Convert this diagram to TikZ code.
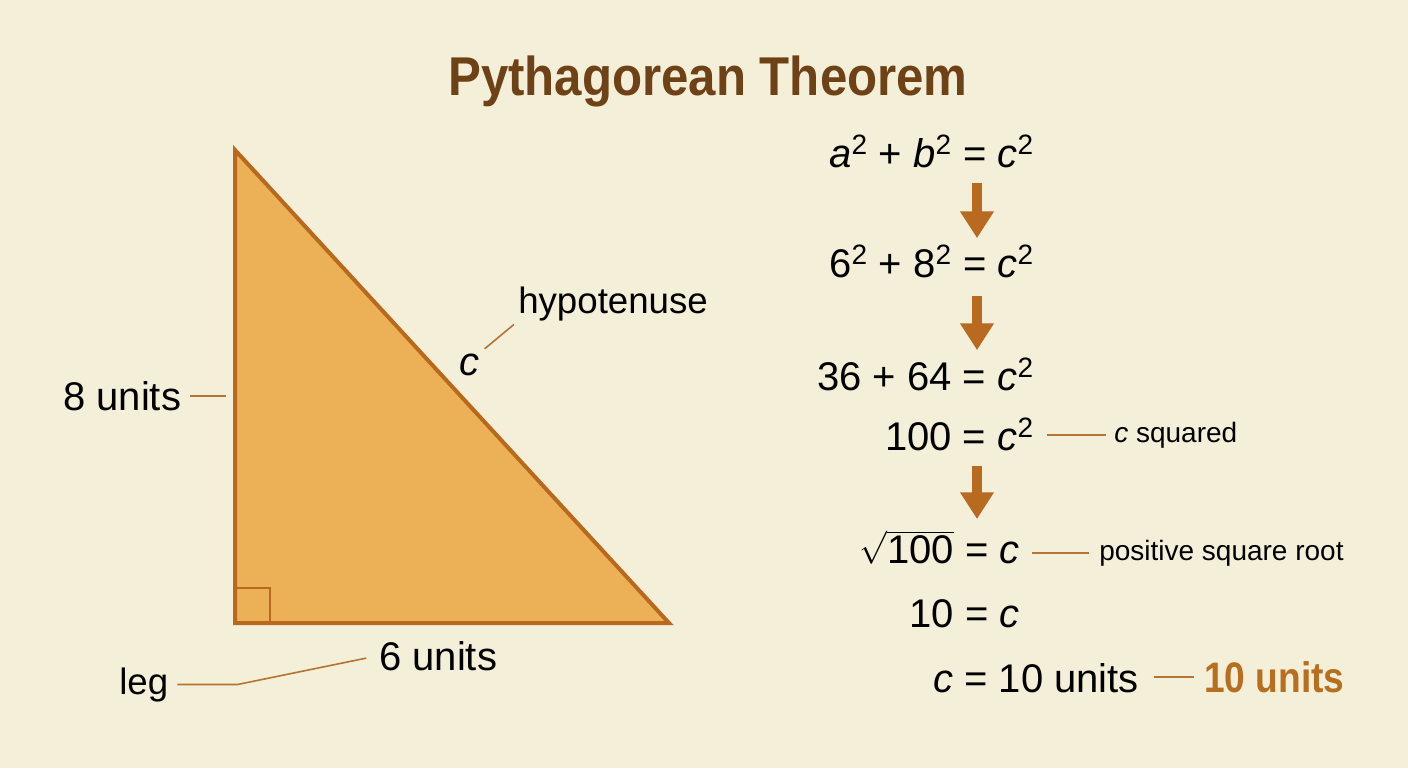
\documentclass[tikz,border=0pt]{standalone}
\usepackage{fontspec}
\setmainfont{Liberation Sans}
\usetikzlibrary{arrows.meta}

\begin{document}
\begin{tikzpicture}[x=0.75pt,y=0.75pt,yscale=-1,xscale=1,
  bigtext/.style={font=\fontsize{30}{36}\selectfont},
  midtext/.style={font=\fontsize{27.5}{33}\selectfont},
  notetext/.style={font=\fontsize{21}{25}\selectfont},
  leader/.style={draw={rgb, 255:red, 180; green, 115; blue, 50 }, line width=1.2pt},
  flowarrow/.style={draw={rgb, 255:red, 184; green, 106; blue, 32 }, line width=7.5pt, -{Triangle[width=24pt,length=20pt]}}
]
%Shape: Background
\fill [color={rgb, 255:red, 244; green, 239; blue, 217 }] (0,0) rectangle (1408,768) ;
\useasboundingbox (0,0) rectangle (1408,768) ;

%Shape: Right Triangle
\coordinate (A) at (235,150) ;
\coordinate (B) at (235,623) ;
\coordinate (C) at (669,623) ;
\draw [color={rgb, 255:red, 185; green, 105; blue, 30 } ,fill={rgb, 255:red, 236; green, 177; blue, 86 } ,line width=3pt ]  (A) -- (B) -- (C) -- cycle ;
%Shape: Right Angle Mark
\draw [color={rgb, 255:red, 185; green, 105; blue, 30 } ,line width=1.5pt ]  (235,588) -- (270,588) -- (270,623) ;

% Text Node
\draw (708,95) node (title) [anchor=base][inner sep=0.75pt] [xscale=0.9,font=\bfseries\fontsize{41}{48}\selectfont,text={rgb, 255:red, 110; green, 66; blue, 22 }]  {Pythagorean Theorem};
% Text Node
\draw (62,410) node (eightlbl) [anchor=base west][inner sep=0.75pt] [bigtext]  {8 units};
% Text Node
\draw (378,670) node (sixlbl) [anchor=base west][inner sep=0.75pt] [bigtext]  {6 units};
% Text Node
\draw (118,694) node (leglbl) [anchor=base west][inner sep=0.75pt] [midtext]  {leg};
% Text Node
\draw (458,375) node (csym) [anchor=base west][inner sep=0.75pt] [bigtext]  {\textit{c}};
% Text Node
\draw (517,313) node (hyplbl) [anchor=base west][inner sep=0.75pt] [midtext]  {hypotenuse};

% Text Node
\draw (1035,167) node (eqA) [anchor=base east][inner sep=0.75pt] [bigtext]  {\textit{a}\textsuperscript{2} + \textit{b}\textsuperscript{2} = \textit{c}\textsuperscript{2}};
% Text Node
\draw (1035,277) node (eqB) [anchor=base east][inner sep=0.75pt] [bigtext]  {6\textsuperscript{2} + 8\textsuperscript{2} = \textit{c}\textsuperscript{2}};
% Text Node
\draw (1035,390) node (eqC) [anchor=base east][inner sep=0.75pt] [bigtext]  {36 + 64 = \textit{c}\textsuperscript{2}};
% Text Node
\draw (1035,450) node (eqD) [anchor=base east][inner sep=0.75pt] [bigtext]  {100 = \textit{c}\textsuperscript{2}};
% Text Node
\draw (1021,563) node (eqE) [anchor=base east][inner sep=0.75pt] [bigtext]  {$\sqrt{\mbox{100}}$ = \textit{c}};
% Text Node
\draw (1021,627) node (eqF) [anchor=base east][inner sep=0.75pt] [bigtext]  {10 = \textit{c}};
% Text Node
\draw (932,692) node (eqG) [anchor=base west][inner sep=0.75pt] [bigtext]  {\textit{c} = 10 units};

% Text Node
\draw (1113,442) node (csqlbl) [anchor=base west][inner sep=0.75pt] [notetext]  {\textit{c} squared};
% Text Node
\draw (1098,560) node (rootlbl) [anchor=base west][inner sep=0.75pt] [notetext]  {positive square root};
% Text Node
\draw (1203,692) node (answer) [anchor=base west][inner sep=0.75pt] [xscale=0.87,font=\bfseries\fontsize{32}{38}\selectfont,text={rgb, 255:red, 183; green, 110; blue, 30 }]  {10 units};

%Straight Lines
\draw [leader, shorten <=6pt, shorten >=7pt]  (eightlbl.east) -- (eightlbl.east -| A) ;
\draw [leader, shorten <=4pt, shorten >=3pt]  (csym.north east) -- (hyplbl.south west) ;
\draw [leader, shorten <=6pt, shorten >=9pt]  (leglbl.east) -- ++(68,0) -- (sixlbl.west) ;
\draw [leader, shorten <=9pt, shorten >=5pt]  (eqD.east |- csqlbl.west) -- (csqlbl.west) ;
\draw [leader, shorten <=8pt, shorten >=7pt]  (eqE.east |- rootlbl.west) -- (rootlbl.west) ;
\draw [leader, shorten <=10.5pt, shorten >=7pt]  (eqG.east |- answer.west) -- (answer.west) ;

%Arrows
\coordinate (axis) at (977,0) ;
\draw [flowarrow, shorten <=11pt, shorten >=4.5pt]  (eqA.south -| axis) -- (eqB.north -| axis) ;
\draw [flowarrow, shorten <=12.75pt, shorten >=5.25pt]  (eqB.south -| axis) -- (eqC.north -| axis) ;
\draw [flowarrow, shorten <=10.5pt, shorten >=7.5pt]  (eqD.south -| axis) -- (eqE.north -| axis) ;

\end{tikzpicture}
\end{document}
